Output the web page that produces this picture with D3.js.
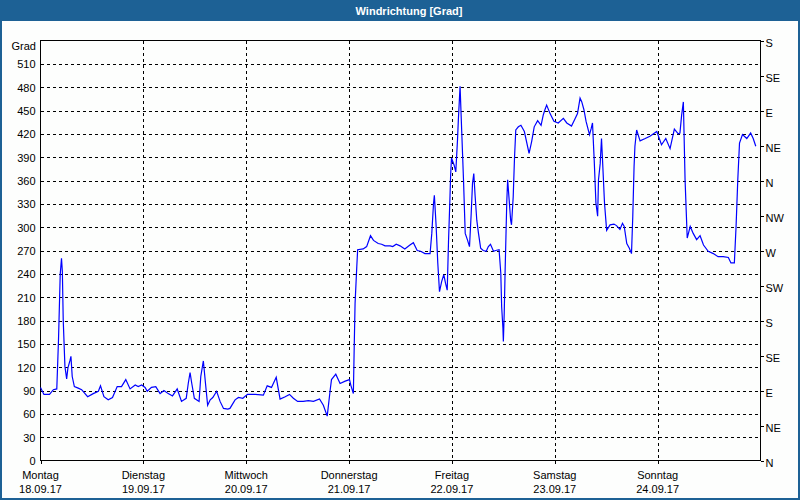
<!DOCTYPE html>
<html>
<head>
<meta charset="utf-8">
<script src="https://cdn.jsdelivr.net/npm/d3@7/dist/d3.min.js"></script>
<style>
  html, body { margin: 0; padding: 0; background: #fdfefd; }
  svg { display: block; }
  text { font-family: "Liberation Sans", Arial, sans-serif; font-size: 11px; fill: #000; }
</style>
</head>
<body>
<svg id="chart" width="800" height="500"></svg>
<script>
// ---- data ----
const title = "Windrichtung [Grad]";
const unitLabel = "Grad";
const startDate = "2017-09-18";
const dayNames = ["Montag", "Dienstag", "Mittwoch", "Donnerstag", "Freitag", "Samstag", "Sonntag"];
const dayDates = ["18.09.17", "19.09.17", "20.09.17", "21.09.17", "22.09.17", "23.09.17", "24.09.17"];
const leftTicks = [0, 30, 60, 90, 120, 150, 180, 210, 240, 270, 300, 330, 360, 390, 420, 450, 480, 510];
const compassTicks = [0, 45, 90, 135, 180, 225, 270, 315, 360, 405, 450, 495, 540];
const compassLabels = ["N", "NE", "E", "SE", "S", "SW", "W", "NW", "N", "NE", "E", "SE", "S"];
// hours since Monday 18.09.17 00:00
const hours = [
  0, 0.8, 2.1, 3.0, 3.8, 4.2, 4.6, 4.9, 5.1, 5.3, 5.7, 6.1, 6.4, 6.9, 7.1, 7.4, 7.9, 8.8, 9.6, 11.0,
  12.3, 13.5, 14.0, 14.8, 15.8, 16.8, 17.9, 18.9, 19.9, 20.9, 22.1, 22.8, 23.6, 24.4, 24.9, 25.9, 26.9, 27.9, 28.8, 29.8,
  30.8, 31.9, 32.9, 34.0, 34.5, 34.9, 35.3, 35.9, 37.0, 37.4, 38.0, 38.5, 39.0, 39.6, 40.2, 41.1, 41.9, 42.7, 43.7, 44.2,
  45.4, 46.2, 47.2, 48.3, 50.1, 52.0, 52.9, 53.9, 55.0, 55.9, 57.1, 58.1, 59.0, 60.0, 61.3, 62.5, 63.7, 65.1, 66.0, 66.9,
  67.6, 67.9, 68.9, 69.9, 71.1, 72.1, 72.4, 73.0, 73.2, 73.4, 73.8, 74.0, 75.3, 76.1, 77.0, 77.7, 78.8, 79.6, 80.4, 81.6,
  82.2, 83.0, 83.9, 85.0, 86.2, 87.0, 87.9, 88.7, 89.7, 90.9, 91.3, 91.7, 91.9, 92.3, 92.7, 93.1, 93.6, 94.1, 94.5, 94.9,
  95.2, 95.5, 95.7, 95.9, 96.5, 96.9, 97.3, 97.5, 97.9, 98.3, 98.7, 99.1, 99.6, 100.1, 100.5, 100.8, 101.1, 101.4, 101.8, 102.2,
  102.7, 103.3, 104.0, 104.5, 105.0, 105.7, 106.2, 107.0, 107.4, 107.6, 107.9, 108.0, 108.2, 108.4, 108.8, 109.0, 109.3, 109.7, 109.9, 110.3,
  110.6, 110.9, 111.5, 112.1, 112.9, 114.0, 114.6, 115.2, 116.0, 116.8, 117.3, 117.7, 118.1, 118.9, 119.8, 120.8, 122.0, 122.8, 123.9, 124.7,
  125.3, 125.9, 126.3, 126.8, 127.3, 128.1, 128.5, 128.8, 129.2, 129.6, 130.0, 130.2, 130.6, 130.9, 131.1, 131.6, 132.1, 132.9, 133.8, 134.4,
  135.2, 135.8, 136.2, 136.8, 137.4, 137.9, 138.2, 138.5, 138.7, 139.1, 139.9, 141.1, 142.2, 143.8, 144.9, 145.9, 146.9, 147.9, 148.8, 149.2,
  149.6, 150.0, 150.4, 150.9, 151.6, 152.3, 153.1, 153.9, 154.7, 155.8, 157.0, 158.1, 159.3, 160.5, 161.1, 161.9, 162.3, 162.7, 163.1, 163.8,
  164.8, 165.7, 166.3, 166.9
];
const direction = [
  94, 85, 85, 91, 92, 155, 239, 260, 243, 181, 121, 105, 119, 129, 134, 108, 95, 93, 91, 82,
  86, 89, 96, 82, 78, 81, 95, 95, 104, 92, 97, 95, 97, 94, 89, 94, 95, 86, 90, 86,
  83, 92, 76, 80, 100, 113, 99, 80, 76, 108, 128, 99, 71, 78, 81, 89, 76, 67, 66, 67,
  78, 81, 80, 85, 85, 84, 96, 94, 107, 79, 82, 85, 80, 76, 76, 77, 76, 79, 71, 57,
  91, 104, 111, 99, 102, 104, 97, 86, 146, 202, 249, 271, 272, 275, 289, 283, 279, 278, 276, 276,
  275, 278, 276, 272, 277, 280, 270, 269, 266, 266, 292, 330, 341, 303, 254, 217, 230, 239, 228, 219,
  281, 331, 367, 389, 380, 371, 412, 438, 481, 421, 361, 292, 284, 275, 318, 356, 369, 341, 309, 292,
  273, 270, 269, 275, 278, 269, 270, 271, 241, 198, 170, 153, 189, 241, 333, 361, 339, 309, 303, 339,
  389, 425, 429, 431, 423, 395, 410, 429, 437, 431, 444, 451, 457, 446, 436, 434, 440, 434, 430, 439,
  446, 466, 461, 451, 436, 419, 427, 434, 386, 331, 314, 361, 382, 414, 391, 331, 296, 303, 304, 302,
  297, 305, 301, 279, 273, 266, 314, 378, 404, 425, 411, 414, 417, 423, 406, 414, 401, 426, 420, 421,
  444, 461, 361, 286, 301, 292, 284, 289, 277, 269, 266, 262, 262, 261, 254, 254, 301, 361, 408, 419,
  414, 421, 414, 404
];

// ---- chart ----
const W = 800, H = 500;
const svg = d3.select("#chart");
const t0 = d3.timeParse("%Y-%m-%d")(startDate);
const t1 = d3.timeDay.offset(t0, 7);
const x = d3.scaleTime().domain([t0, t1]).range([40.5, 760.5]);
const y = d3.scaleLinear().domain([0, 540]).range([460.5, 40.5]);
const dayTicks = d3.range(0, 7).map(i => d3.timeDay.offset(t0, i));
const blue = "#1d6195";

svg.append("rect").attr("x", 0).attr("y", 0).attr("width", W).attr("height", H).attr("fill", "#fdfefd");

// title bar
svg.append("rect").attr("x", 0).attr("y", 0).attr("width", W).attr("height", 21).attr("fill", blue);
svg.append("text").attr("x", 409).attr("y", 15).attr("text-anchor", "middle")
  .style("font-weight", "bold").style("fill", "#fff").text(title);
// outer border
svg.append("rect").attr("x", 1).attr("y", 1).attr("width", W - 2).attr("height", H - 2)
  .attr("fill", "none").attr("stroke", blue).attr("stroke-width", 2);

// grid
const gH = svg.append("g").attr("transform", "translate(40.5,0)")
  .call(d3.axisRight(y).tickValues(leftTicks.filter(v => v > 0)).tickSize(720).tickFormat(""));
gH.select(".domain").remove();
gH.selectAll("line").attr("stroke", "#000").attr("stroke-dasharray", "3,3").attr("shape-rendering", "crispEdges");

const gV = svg.append("g").attr("transform", "translate(0,40.5)")
  .call(d3.axisBottom(x).tickValues(dayTicks.slice(1)).tickSize(420).tickFormat(""));
gV.select(".domain").remove();
gV.selectAll("line").attr("stroke", "#000").attr("stroke-dasharray", "3,3").attr("shape-rendering", "crispEdges");

// frame
svg.append("rect").attr("x", 40.5).attr("y", 40.5).attr("width", 720).attr("height", 420)
  .attr("fill", "none").attr("stroke", "#000").attr("stroke-width", 1).attr("shape-rendering", "crispEdges");

// left axis
const gL = svg.append("g").attr("transform", "translate(40.5,0)")
  .call(d3.axisLeft(y).tickValues(leftTicks).tickSize(0).tickPadding(5));
gL.select(".domain").remove();
gL.selectAll("text").style("font-family", "Liberation Sans, Arial, sans-serif").style("font-size", "11px").attr("dy", "0.35em");
svg.append("text").attr("x", 36).attr("y", 50).attr("text-anchor", "end").text(unitLabel);

// right axis
const gR = svg.append("g").attr("transform", "translate(760.5,0)")
  .call(d3.axisRight(y).tickValues(compassTicks).tickSize(3).tickPadding(2)
    .tickFormat((d, i) => compassLabels[i]));
gR.select(".domain").remove();
gR.selectAll("line").attr("stroke", "#000").attr("shape-rendering", "crispEdges");
gR.selectAll("text").style("font-family", "Liberation Sans, Arial, sans-serif").style("font-size", "11px").attr("dy", "0.55em");

// bottom axis
const gB = svg.append("g").attr("transform", "translate(0,460.5)")
  .call(d3.axisBottom(x).tickValues(dayTicks).tickSize(3).tickFormat(""));
gB.select(".domain").remove();
gB.selectAll("line").attr("stroke", "#000").attr("shape-rendering", "crispEdges");
const lbl = svg.append("g");
dayTicks.forEach((d, i) => {
  lbl.append("text").attr("x", x(d)).attr("y", 479).attr("text-anchor", "middle").text(dayNames[i]);
  lbl.append("text").attr("x", x(d)).attr("y", 493).attr("text-anchor", "middle").text(dayDates[i]);
});

// series
const series = hours.map((h, i) => ({ t: new Date(t0.getTime() + h * 3600000), v: direction[i] }));
const line = d3.line().x(d => x(d.t)).y(d => y(d.v));
svg.append("path").datum(series).attr("d", line)
  .attr("fill", "none").attr("stroke", "#0000ff").attr("stroke-width", 1.2).attr("stroke-linejoin", "miter");
</script>
</body>
</html>
